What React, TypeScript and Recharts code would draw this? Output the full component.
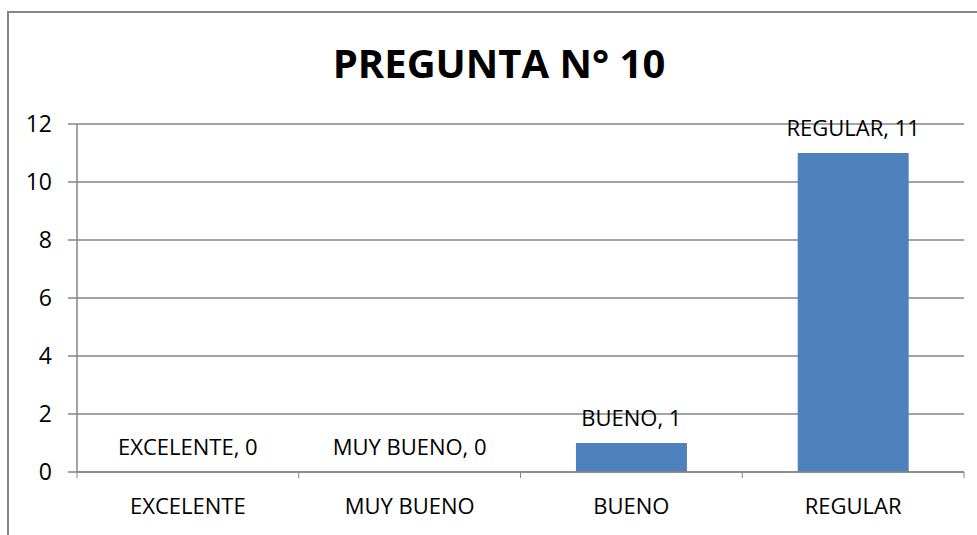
import React from 'react';
import { ComposedChart, Bar, Line, XAxis, YAxis, CartesianGrid, LabelList } from 'recharts';

const categories = ['EXCELENTE', 'MUY BUENO', 'BUENO', 'REGULAR'];
const values = [0, 0, 1, 11];
const yTicks = [0, 2, 4, 6, 8, 10, 12];
const title = 'PREGUNTA N° 10';

const data = categories.map((c, i) => ({ name: c, value: values[i], label: `${c}, ${values[i]}` }));

const FONT = '"Open Sans", sans-serif';
const GREY = '#868686';

const XTick = (props: any) => {
  const { x, y, payload, index, width, visibleTicksCount } = props;
  const band = width / (visibleTicksCount || categories.length);
  const axisY = y - 26;
  return (
    <g>
      <line x1={x - band / 2} x2={x - band / 2} y1={axisY} y2={axisY + 6} stroke={GREY} strokeWidth={1} />
      {index === categories.length - 1 && (
        <line x1={x + band / 2} x2={x + band / 2} y1={axisY} y2={axisY + 6} stroke={GREY} strokeWidth={1} />
      )}
      <text x={x} y={y} dy="0.71em" textAnchor="middle" fill="#000" fontSize={22} fontFamily={FONT}>
        {payload.value}
      </text>
    </g>
  );
};

export default function App() {
  return (
    <div style={{ position: 'absolute', left: 0, top: 0, width: 977, height: 535, overflow: 'hidden', background: '#fff' }}>
      <div style={{ position: 'absolute', left: 7, top: 11, width: 1100, height: 600, border: `2px solid ${GREY}`, boxSizing: 'border-box' }} />
      <div style={{ position: 'absolute', left: 8, top: 0, width: 982, height: 128, pointerEvents: 'none' }}>
        <div style={{ position: 'absolute', left: 0, width: 982, top: 38, textAlign: 'center', fontFamily: FONT, fontWeight: 700, fontSize: 40, lineHeight: '50px', color: '#000' }}>
          {title}
        </div>
      </div>
      <div style={{ position: 'absolute', left: 0, top: 0 }}>
        <ComposedChart width={977} height={535} data={data} margin={{ top: 124, right: 13, bottom: 33, left: 0 }} barCategoryGap="25%">
          <CartesianGrid vertical={false} stroke={GREY} strokeWidth={1.5} />
          <XAxis
            dataKey="name"
            height={30}
            tickLine={false}
            tickSize={6}
            tickMargin={20}
            axisLine={{ stroke: GREY, strokeWidth: 1.5 }}
            tick={<XTick />}
            interval={0}
          />
          <YAxis
            domain={[0, 12]}
            ticks={yTicks}
            width={77}
            tickSize={9}
            tickMargin={16}
            axisLine={{ stroke: GREY, strokeWidth: 1.5 }}
            tickLine={{ stroke: GREY, strokeWidth: 1.5 }}
            tick={{ fill: '#000', fontSize: 23, fontFamily: FONT }}
            allowDataOverflow
          />
          <Bar dataKey="value" fill="#4F81BD" isAnimationActive={false} />
          <Line dataKey="value" stroke="none" dot={false} activeDot={false} isAnimationActive={false}>
            <LabelList dataKey="label" position="top" offset={17} fill="#000" fontSize={22} fontFamily={FONT} />
          </Line>
        </ComposedChart>
      </div>
    </div>
  );
}
